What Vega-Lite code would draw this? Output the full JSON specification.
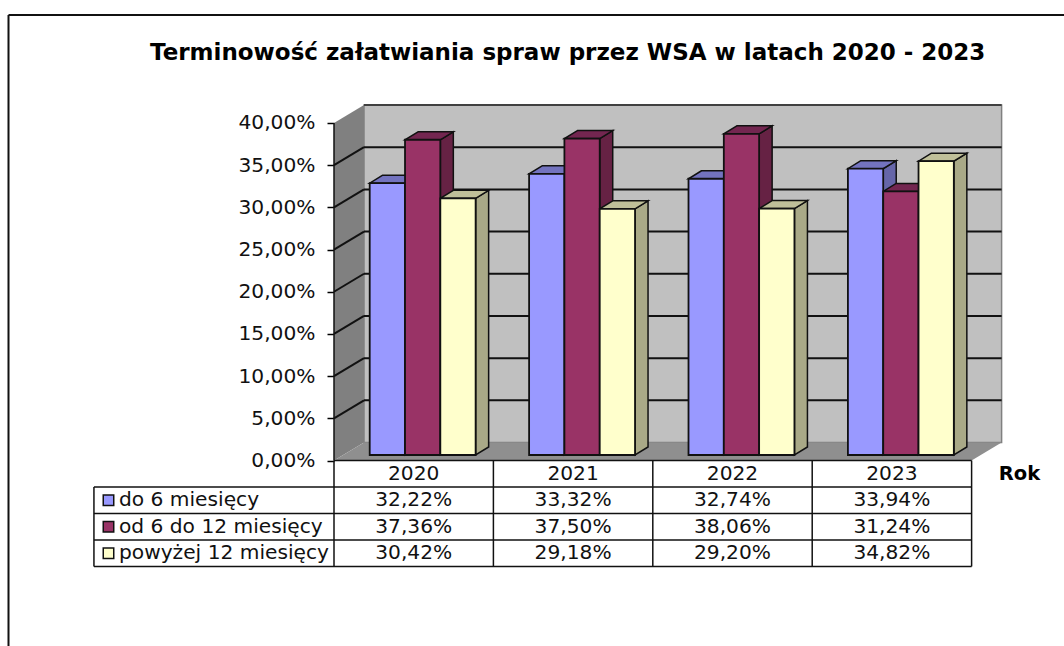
{
"$schema":"https://vega.github.io/schema/vega-lite/v6.json",
"width":667,"height":355.5,
"autosize":{"type":"none"},
"padding":{"left":334,"top":105,"right":63,"bottom":185.5},
"background":"white",
"title":{"text":"Terminowość załatwiania spraw przez WSA w latach 2020 - 2023","anchor":"start","frame":"group","dx":-184,"offset":-51,"font":"DejaVu Sans","fontSize":23,"fontWeight":"bold","color":"black"},
"view":{"stroke":null},
"config":{"text":{"font":"DejaVu Sans","fontSize":20.2,"color":"#111111"}},
"datasets":{
"slupki":[
{"rok":"2020","kategoria":"do 6 miesięcy","wartosc":32.22},
{"rok":"2021","kategoria":"do 6 miesięcy","wartosc":33.32},
{"rok":"2022","kategoria":"do 6 miesięcy","wartosc":32.74},
{"rok":"2023","kategoria":"do 6 miesięcy","wartosc":33.94},
{"rok":"2020","kategoria":"od 6 do 12 miesięcy","wartosc":37.36},
{"rok":"2021","kategoria":"od 6 do 12 miesięcy","wartosc":37.50},
{"rok":"2022","kategoria":"od 6 do 12 miesięcy","wartosc":38.06},
{"rok":"2023","kategoria":"od 6 do 12 miesięcy","wartosc":31.24},
{"rok":"2020","kategoria":"powyżej 12 miesięcy","wartosc":30.42},
{"rok":"2021","kategoria":"powyżej 12 miesięcy","wartosc":29.18},
{"rok":"2022","kategoria":"powyżej 12 miesięcy","wartosc":29.20},
{"rok":"2023","kategoria":"powyżej 12 miesięcy","wartosc":34.82}
],
"siatka":[{"wartosc":5},{"wartosc":10},{"wartosc":15},{"wartosc":20},{"wartosc":25},{"wartosc":30},{"wartosc":35}],
"jeden":[{"n":1}],
"linie":[{"n":0},{"n":1},{"n":2},{"n":3},{"n":4}]
},
"encoding":{
"x":{"field":"px","type":"quantitative","scale":{"domain":[0,4.1844],"nice":false,"zero":false},
"axis":{"title":"Rok","labels":false,"ticks":false,"domain":false,"grid":false,"titleX":685,"titleY":13,"titleFont":"DejaVu Sans","titleFontSize":19.5,"titleFontWeight":"bold","titleColor":"black","titleAlign":"center","titleBaseline":"middle"}},
"y":{"field":"py","type":"quantitative","scale":{"domain":[0,42.133],"nice":false,"zero":false},
"axis":{"title":null,"values":[0,5,10,15,20,25,30,35,40],"grid":false,"domain":false,"tickSize":7,"tickColor":"black","tickWidth":1.5,"labelPadding":12,"labelFont":"DejaVu Sans","labelFontSize":20.2,"labelColor":"#111111","labelExpr":"replace(format(datum.value,'.2f'),'.',',')+'%'"}}
},
"resolve":{"scale":{"fill":"independent"}},
"layer":[
{"data":{"name":"jeden"},"mark":{"type":"rect","fill":"#c0c0c0","stroke":"#808080","strokeWidth":1.5},
 "transform":[{"calculate":"0.1882","as":"px"},{"calculate":"4.1882","as":"px2"},{"calculate":"2.133","as":"py"},{"calculate":"42.133","as":"py2"}],
 "encoding":{"x2":{"field":"px2"},"y2":{"field":"py2"}}},
{"data":{"name":"jeden"},"mark":{"type":"area","fill":"#808080"},
 "transform":[{"calculate":"[0,1]","as":"t"},{"flatten":["t"]},{"calculate":"datum.t*0.1882","as":"px"},{"calculate":"datum.t*2.133","as":"py"},{"calculate":"40+datum.t*2.133","as":"py2"}],
 "encoding":{"y2":{"field":"py2"}}},
{"data":{"name":"jeden"},"mark":{"type":"area","orient":"horizontal","fill":"#8f8f8f"},
 "transform":[{"calculate":"[0,1]","as":"t"},{"flatten":["t"]},{"calculate":"datum.t*0.1882","as":"px"},{"calculate":"4+datum.t*0.1882","as":"px2"},{"calculate":"datum.t*2.133","as":"py"}],
 "encoding":{"x2":{"field":"px2"}}},
{"data":{"name":"jeden"},"mark":{"type":"rule","color":"#404040","strokeWidth":2},
 "transform":[{"calculate":"0.1882","as":"px"},{"calculate":"4.1882","as":"px2"},{"calculate":"42.133","as":"py"}],
 "encoding":{"x2":{"field":"px2"}}},
{"data":{"name":"siatka"},"mark":{"type":"rule","color":"#111111","strokeWidth":2},
 "transform":[{"calculate":"0.1882","as":"px"},{"calculate":"4.1882","as":"px2"},{"calculate":"datum.wartosc+2.133","as":"py"}],
 "encoding":{"x2":{"field":"px2"}}},
{"data":{"name":"siatka"},"mark":{"type":"line","color":"#111111","strokeWidth":2},
 "transform":[{"calculate":"[0,1]","as":"t"},{"flatten":["t"]},{"calculate":"datum.t*0.1882","as":"px"},{"calculate":"datum.wartosc+datum.t*2.133","as":"py"}],
 "encoding":{"detail":{"field":"wartosc"}}},
{"data":{"name":"slupki"},"mark":{"type":"area","stroke":"#111111","strokeWidth":1.5},
 "transform":[{"calculate":"toNumber(datum.rok)-2020","as":"i"},{"calculate":"indexof(['do 6 miesięcy','od 6 do 12 miesięcy','powyżej 12 miesięcy'],datum.kategoria)","as":"s"},{"calculate":"[0,1]","as":"t"},{"flatten":["t"]},
  {"calculate":"datum.i+0.224+(datum.s+1)*0.2215+datum.t*0.0816","as":"px"},{"calculate":"datum.wartosc+0.652+datum.t*0.948","as":"py"},{"calculate":"0.652+datum.t*0.948","as":"py2"},{"calculate":"datum.rok+datum.kategoria","as":"id"}],
 "encoding":{"y2":{"field":"py2"},"detail":{"field":"id"},"fill":{"field":"kategoria","legend":null,"scale":{"domain":["do 6 miesięcy","od 6 do 12 miesięcy","powyżej 12 miesięcy"],"range":["#6666a9","#662244","#a9a987"]}}}},
{"data":{"name":"slupki"},"mark":{"type":"area","orient":"horizontal","stroke":"#111111","strokeWidth":1.5},
 "transform":[{"calculate":"toNumber(datum.rok)-2020","as":"i"},{"calculate":"indexof(['do 6 miesięcy','od 6 do 12 miesięcy','powyżej 12 miesięcy'],datum.kategoria)","as":"s"},{"calculate":"[0,1]","as":"t"},{"flatten":["t"]},
  {"calculate":"datum.i+0.224+datum.s*0.2215+datum.t*0.0816","as":"px"},{"calculate":"datum.px+0.2215","as":"px2"},{"calculate":"datum.wartosc+0.652+datum.t*0.948","as":"py"},{"calculate":"datum.rok+datum.kategoria","as":"id"}],
 "encoding":{"x2":{"field":"px2"},"detail":{"field":"id"},"fill":{"field":"kategoria","legend":null,"scale":{"domain":["do 6 miesięcy","od 6 do 12 miesięcy","powyżej 12 miesięcy"],"range":["#7373bf","#732650","#bfbf99"]}}}},
{"data":{"name":"slupki"},"mark":{"type":"rect","stroke":"#111111","strokeWidth":1.8},
 "transform":[{"calculate":"toNumber(datum.rok)-2020","as":"i"},{"calculate":"indexof(['do 6 miesięcy','od 6 do 12 miesięcy','powyżej 12 miesięcy'],datum.kategoria)","as":"s"},
  {"calculate":"datum.i+0.224+datum.s*0.2215","as":"px"},{"calculate":"datum.px+0.2215","as":"px2"},{"calculate":"datum.wartosc+0.652","as":"py"},{"calculate":"0.652","as":"py2"}],
 "encoding":{"x2":{"field":"px2"},"y2":{"field":"py2"},"fill":{"field":"kategoria","legend":null,"scale":{"domain":["do 6 miesięcy","od 6 do 12 miesięcy","powyżej 12 miesięcy"],"range":["#9999ff","#993366","#ffffcc"]}}}},
{"data":{"name":"jeden"},"mark":{"type":"rule","color":"#111111","strokeWidth":1.5},
 "transform":[{"calculate":"0","as":"px"},{"calculate":"0","as":"py"},{"calculate":"40","as":"py2"}],
 "encoding":{"y2":{"field":"py2"}}},
{"data":{"name":"linie"},"mark":{"type":"rule","color":"#111111","strokeWidth":1.5},
 "transform":[{"calculate":"datum.n==0?0:-1.506","as":"px"},{"calculate":"4","as":"px2"},{"calculate":"-datum.n*3.14","as":"py"}],
 "encoding":{"x2":{"field":"px2"}}},
{"data":{"name":"linie"},"mark":{"type":"rule","color":"#111111","strokeWidth":1.5},
 "transform":[{"calculate":"datum.n","as":"px"},{"calculate":"0","as":"py"},{"calculate":"-12.56","as":"py2"}],
 "encoding":{"y2":{"field":"py2"}}},
{"data":{"name":"jeden"},"mark":{"type":"rule","color":"#111111","strokeWidth":1.5},
 "transform":[{"calculate":"-1.506","as":"px"},{"calculate":"-3.14","as":"py"},{"calculate":"-12.56","as":"py2"}],
 "encoding":{"y2":{"field":"py2"}}},
{"data":{"name":"jeden"},"mark":{"type":"rule","color":"#111111","strokeWidth":2},
 "transform":[{"calculate":"-2.042","as":"px"},{"calculate":"52.8","as":"py"},{"calculate":"-22","as":"py2"}],
 "encoding":{"y2":{"field":"py2"}}},
{"data":{"name":"jeden"},"mark":{"type":"rule","color":"#111111","strokeWidth":2},
 "transform":[{"calculate":"-2.042","as":"px"},{"calculate":"4.59","as":"px2"},{"calculate":"52.8","as":"py"}],
 "encoding":{"x2":{"field":"px2"}}},
{"data":{"name":"slupki"},"mark":{"type":"text","align":"center","baseline":"middle"},
 "transform":[{"filter":"datum.kategoria=='do 6 miesięcy'"},{"calculate":"toNumber(datum.rok)-2020+0.5","as":"px"},{"calculate":"-1.57","as":"py"}],
 "encoding":{"text":{"field":"rok"}}},
{"data":{"name":"slupki"},"mark":{"type":"text","align":"center","baseline":"middle"},
 "transform":[{"calculate":"indexof(['do 6 miesięcy','od 6 do 12 miesięcy','powyżej 12 miesięcy'],datum.kategoria)","as":"s"},{"calculate":"toNumber(datum.rok)-2020+0.5","as":"px"},{"calculate":"-(datum.s+1)*3.14-1.57","as":"py"},{"calculate":"replace(format(datum.wartosc,'.2f'),'.',',')+'%'","as":"tekst"}],
 "encoding":{"text":{"field":"tekst"}}},
{"data":{"name":"slupki"},"mark":{"type":"text","align":"left","baseline":"middle"},
 "transform":[{"filter":"datum.rok=='2020'"},{"calculate":"indexof(['do 6 miesięcy','od 6 do 12 miesięcy','powyżej 12 miesięcy'],datum.kategoria)","as":"s"},{"calculate":"-1.349","as":"px"},{"calculate":"-(datum.s+1)*3.14-1.57","as":"py"}],
 "encoding":{"text":{"field":"kategoria"}}},
{"data":{"name":"slupki"},"mark":{"type":"point","shape":"square","filled":true,"size":110,"stroke":"#111111","strokeWidth":1.5,"opacity":1},
 "transform":[{"filter":"datum.rok=='2020'"},{"calculate":"indexof(['do 6 miesięcy','od 6 do 12 miesięcy','powyżej 12 miesięcy'],datum.kategoria)","as":"s"},{"calculate":"-1.4147","as":"px"},{"calculate":"-(datum.s+1)*3.14-1.57","as":"py"}],
 "encoding":{"fill":{"field":"kategoria","legend":null,"scale":{"domain":["do 6 miesięcy","od 6 do 12 miesięcy","powyżej 12 miesięcy"],"range":["#9999ff","#993366","#ffffcc"]}}}}
]
}
